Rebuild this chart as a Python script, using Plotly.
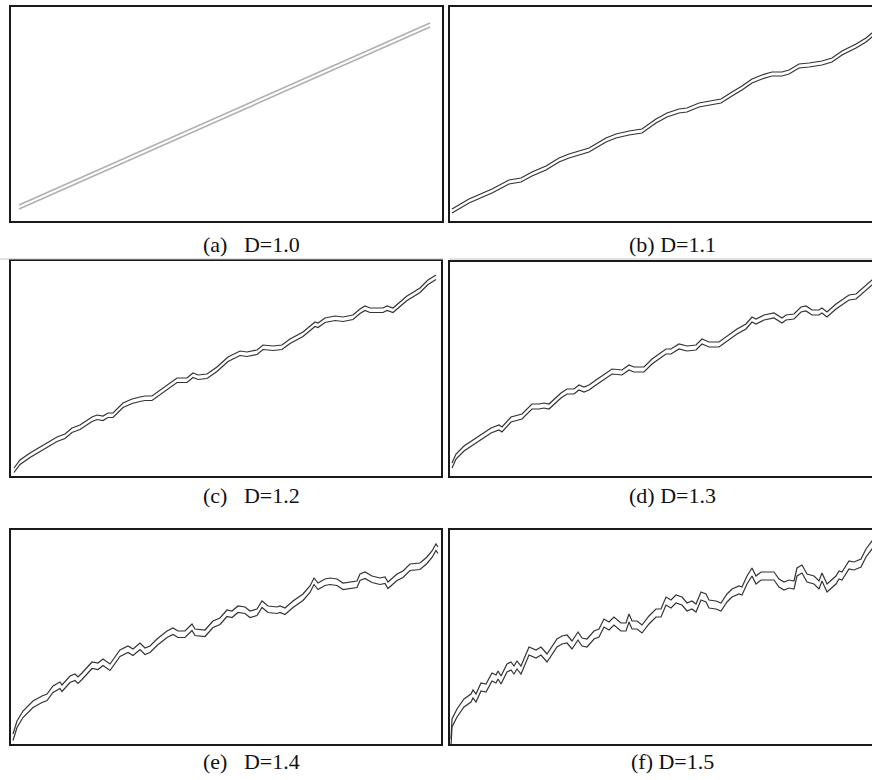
import plotly.graph_objects as go

# ---- data (panel pixel units: x from left edge of frame, y from top edge of frame) ----
a_x = [9, 420]
a_y = [199, 17]

b_x = [3, 20, 43, 60, 72, 83, 97, 110, 120, 132, 140, 157, 167, 180, 193, 207, 218, 230, 238, 250,
       260, 272, 283, 293, 303, 313, 323, 333, 340, 350, 360, 373, 383, 393, 407, 417, 423, 430]
b_y = [203, 193, 183, 174, 172, 166, 160, 152, 148, 144, 142, 132, 128, 125, 123, 113, 107, 103, 102, 97,
       95, 93, 86, 80, 73, 69, 66, 66, 64, 58, 57, 55, 52, 45, 38, 32, 27, 22]

c_x = [4, 10, 20, 33, 47, 55, 62, 70, 82, 87, 93, 98, 103, 113, 122, 130, 135, 142, 157, 167,
       177, 183, 188, 197, 207, 218, 230, 237, 247, 253, 263, 272, 280, 293, 305, 308, 315, 325, 333, 343,
       350, 355, 360, 367, 373, 377, 383, 390, 397, 402, 410, 418, 426]
c_y = [208, 200, 193, 185, 177, 174, 168, 165, 157, 155, 156, 153, 153, 143, 139, 137, 136, 136, 125, 118,
       118, 113, 115, 114, 107, 97, 91, 92, 90, 85, 86, 85, 79, 72, 62, 63, 58, 56, 57, 55,
       49, 46, 48, 48, 48, 46, 48, 42, 36, 33, 28, 20, 15]

d_x = [3, 7, 15, 27, 33, 42, 50, 53, 62, 68, 73, 83, 90, 95, 100, 112, 118, 125, 130, 135,
       140, 147, 157, 163, 173, 180, 185, 195, 203, 210, 217, 222, 230, 238, 247, 253, 260, 270, 278, 288,
       297, 303, 307, 315, 325, 333, 337, 345, 352, 357, 363, 370, 373, 378, 387, 393, 400, 407, 413, 423, 430]
d_y = [202, 193, 185, 177, 173, 167, 164, 166, 156, 154, 153, 143, 143, 142, 143, 132, 128, 128, 124, 126,
       124, 119, 112, 108, 109, 104, 106, 106, 98, 93, 88, 88, 83, 85, 84, 78, 81, 81, 75, 68,
       63, 56, 58, 54, 52, 57, 54, 53, 46, 45, 49, 49, 47, 51, 43, 39, 34, 33, 28, 19, 15]

e_x = [3, 7, 13, 23, 32, 37, 43, 50, 52, 60, 65, 68, 72, 82, 88, 93, 100, 110, 118, 123,
       130, 135, 140, 147, 157, 163, 168, 175, 182, 185, 195, 203, 210, 217, 222, 228, 235, 240, 247, 252,
       258, 267, 270, 275, 283, 293, 300, 304, 308, 315, 320, 327, 333, 342, 347, 350, 355, 362, 370, 375,
       378, 387, 393, 400, 410, 417, 422, 426, 428]
e_y = [205, 192, 182, 172, 167, 165, 157, 153, 156, 147, 145, 148, 144, 133, 134, 130, 135, 121, 117, 120,
       114, 119, 117, 110, 102, 99, 102, 102, 95, 100, 101, 92, 89, 81, 82, 77, 78, 82, 80, 72,
       77, 78, 77, 79, 72, 65, 57, 49, 54, 50, 49, 50, 54, 53, 52, 45, 43, 47, 49, 48,
       53, 45, 42, 35, 34, 28, 22, 15, 18]

f_x = [2, 3, 8, 15, 22, 24, 27, 32, 37, 43, 47, 49, 52, 58, 62, 65, 68, 72, 80, 87,
       92, 98, 108, 113, 118, 123, 129, 133, 138, 145, 150, 155, 160, 165, 172, 177, 180, 183, 188, 193,
       200, 207, 212, 217, 222, 227, 233, 238, 243, 247, 252, 257, 260, 267, 272, 278, 283, 290, 293, 298,
       303, 307, 312, 317, 325, 330, 335, 340, 345, 348, 353, 358, 365, 370, 373, 378, 387, 390, 393, 400,
       405, 412, 417, 423, 430]
f_y = [210, 190, 180, 170, 165, 161, 165, 154, 155, 144, 146, 142, 147, 135, 133, 137, 132, 137, 118, 121,
       118, 125, 110, 107, 106, 112, 103, 109, 110, 102, 100, 90, 93, 88, 94, 94, 85, 92, 92, 96,
       87, 80, 80, 68, 71, 66, 68, 74, 72, 75, 63, 65, 71, 72, 74, 65, 60, 57, 58, 47,
       39, 47, 43, 43, 43, 50, 53, 51, 52, 39, 36, 45, 47, 52, 44, 55, 47, 42, 43, 32,
       33, 30, 20, 12, 6]

captions = ["(a)\u00a0\u00a0\u00a0D=1.0", "(b) D=1.1", "(c)\u00a0\u00a0\u00a0D=1.2",
            "(d) D=1.3", "(e)\u00a0\u00a0\u00a0D=1.4", "(f) D=1.5"]

series = [(a_x, a_y), (b_x, b_y), (c_x, c_y), (d_x, d_y), (e_x, e_y), (f_x, f_y)]

# ---- layout (pixels in the 872x780 page) ----
W, H = 872, 780
# frame boxes: left, top, right, bottom
boxes = [(10, 6, 443, 222), (449, 6, 881, 222),
         (10, 260, 442, 477), (449, 261, 881, 477),
         (10, 529, 442, 745), (449, 529, 881, 745)]
gaps = [4, 4, 4.5, 5, 6.5, 8]          # vertical spacing between the two walls
line_colors = ["#b0b0b0", "#333333", "#333333", "#333333", "#333333", "#333333"]
line_widths = [1.6, 1.2, 1.2, 1.2, 1.2, 1.2]
cap_pos = [(251, 244), (672, 244), (251, 496), (672, 496), (251, 761), (672, 761)]

def nm(n):
    return "" if n == 1 else str(n)

fig = go.Figure()
layout = {}
shapes = []
annotations = []

for k, ((xs, ys), (l, t, r, b)) in enumerate(zip(series, boxes)):
    xi = k + 1
    yu = 2 * k + 1
    yl = 2 * k + 2
    h = b - t
    rr = min(r, W)
    dom_x = [l / W, rr / W]
    dom_y = [1 - b / H, 1 - t / H]
    layout["xaxis" + nm(xi)] = dict(domain=dom_x, range=[0, rr - l], visible=False,
                                    anchor="y" + nm(yu), fixedrange=True)
    layout["yaxis" + nm(yu)] = dict(domain=dom_y, range=[h, 0], visible=False,
                                    anchor="x" + nm(xi), fixedrange=True)
    layout["yaxis" + nm(yl)] = dict(range=[h - gaps[k], -gaps[k]], visible=False,
                                    overlaying="y" + nm(yu), anchor="x" + nm(xi),
                                    fixedrange=True)
    for ya in (yu, yl):
        fig.add_trace(go.Scatter(x=xs, y=ys, mode="lines",
                                 line=dict(color=line_colors[k], width=line_widths[k]),
                                 xaxis="x" + nm(xi), yaxis="y" + nm(ya),
                                 hoverinfo="skip", showlegend=False))
    shapes.append(dict(type="rect", xref="paper", yref="paper",
                       x0=l / W, x1=r / W, y0=1 - b / H, y1=1 - t / H,
                       line=dict(color="#1a1a1a", width=2), layer="above"))
    cx, cy = cap_pos[k]
    annotations.append(dict(text=captions[k], xref="paper", yref="paper",
                            x=cx / W, y=1 - cy / H, xanchor="center", yanchor="middle",
                            showarrow=False,
                            font=dict(family="Liberation Serif", size=22, color="#111111")))

# faint rule under the first row of captions
for x0, x1 in [(0, 443), (449, 872)]:
    shapes.append(dict(type="line", xref="paper", yref="paper",
                       x0=x0 / W, x1=x1 / W, y0=1 - 259 / H, y1=1 - 259 / H,
                       line=dict(color="#c4c4c4", width=1)))

fig.update_layout(width=W, height=H, margin=dict(l=0, r=0, t=0, b=0),
                  paper_bgcolor="white", plot_bgcolor="white",
                  font=dict(family="Liberation Serif"),
                  shapes=shapes, annotations=annotations, **layout)

fig.write_html("out.html")
